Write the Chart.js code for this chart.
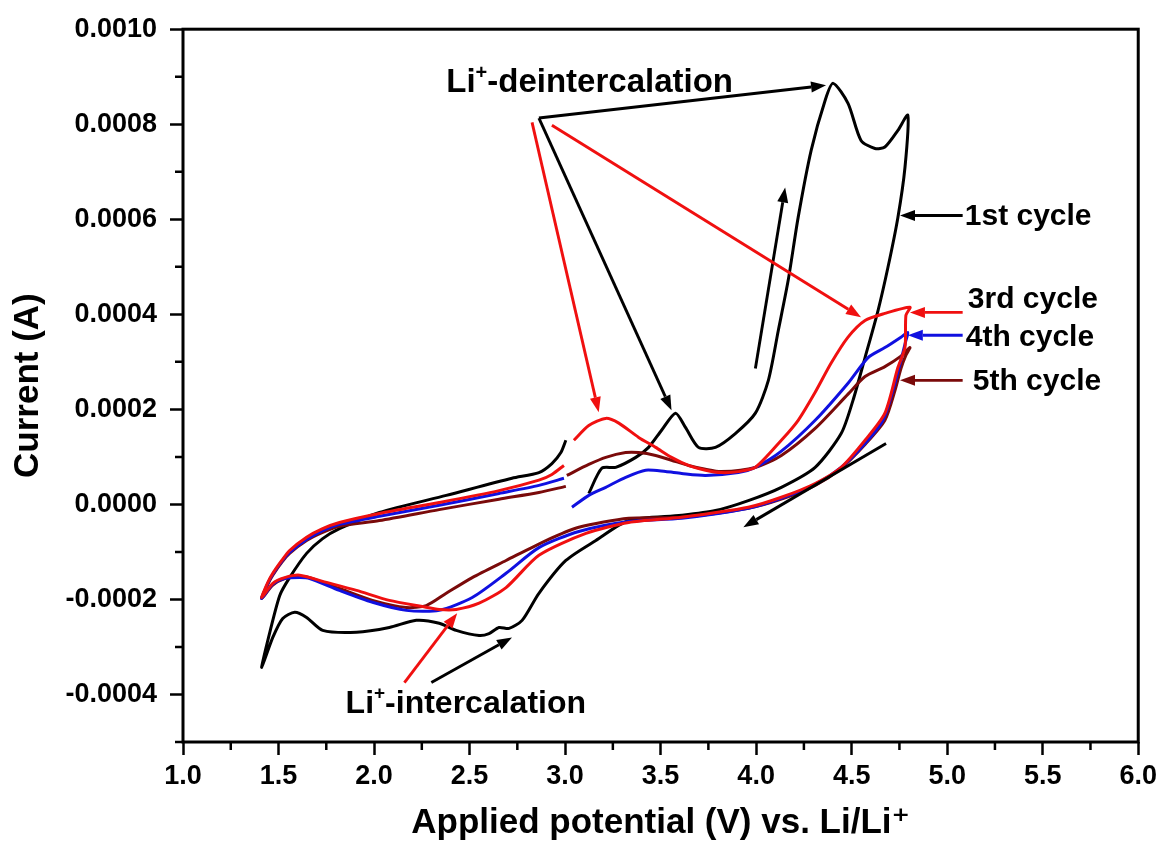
<!DOCTYPE html>
<html>
<head>
<meta charset="utf-8">
<script src="https://cdn.jsdelivr.net/npm/chart.js@4.4.1/dist/chart.umd.min.js"></script>
<style>
  html, body { margin: 0; padding: 0; background: #fff; }
  canvas { display: block; }
</style>
</head>
<body>
<canvas id="cv" width="1162" height="847"></canvas>
<script>
// potential (V) , current (A)
const cycle1 = [
  [3.124, 0.000023], [3.192, 0.000076], [3.265, 0.000078], [3.370, 0.000099], [3.437, 0.000120],
  [3.505, 0.000156], [3.578, 0.000192], [3.630, 0.000162], [3.698, 0.000120], [3.787, 0.000120],
  [3.891, 0.000149], [3.996, 0.000192], [4.064, 0.000261], [4.116, 0.000366], [4.168, 0.000472],
  [4.220, 0.000604], [4.288, 0.000745], [4.361, 0.000850], [4.403, 0.000886], [4.481, 0.000844],
  [4.549, 0.000766], [4.622, 0.000749], [4.674, 0.000752], [4.742, 0.000787], [4.794, 0.000819],
  [4.779, 0.000709], [4.742, 0.000604], [4.690, 0.000499], [4.638, 0.000408], [4.570, 0.000309],
  [4.507, 0.000219], [4.445, 0.000149], [4.309, 0.000078], [4.132, 0.000036], [3.959, 0.000008],
  [3.787, -0.000013], [3.610, -0.000023], [3.333, -0.000034], [3.161, -0.000076], [3.004, -0.000118],
  [2.863, -0.000187], [2.775, -0.000244], [2.707, -0.000261], [2.654, -0.000259], [2.602, -0.000272],
  [2.550, -0.000276], [2.430, -0.000265], [2.341, -0.000250], [2.221, -0.000244], [2.080, -0.000259],
  [1.908, -0.000269], [1.731, -0.000265], [1.647, -0.000238], [1.585, -0.000227], [1.522, -0.000240],
  [1.470, -0.000280], [1.412, -0.000343], [1.444, -0.000286], [1.506, -0.000192], [1.558, -0.000154],
  [1.647, -0.000103], [1.731, -0.000072], [1.819, -0.000051], [2.028, -0.000017], [2.378, 0.000019],
  [2.722, 0.000055], [2.863, 0.000067], [2.931, 0.000086], [2.978, 0.000109], [3.004, 0.000135]
]

const cycle3 = [
  [3.046, 0.000135], [3.124, 0.000166], [3.213, 0.000181], [3.281, 0.000171], [3.385, 0.000141],
  [3.474, 0.000120], [3.557, 0.000099], [3.646, 0.000082], [3.735, 0.000072], [3.818, 0.000067],
  [3.907, 0.000069], [3.996, 0.000078], [4.132, 0.000135], [4.220, 0.000177], [4.309, 0.000236],
  [4.392, 0.000297], [4.481, 0.000352], [4.570, 0.000387], [4.674, 0.000402], [4.805, 0.000415],
  [4.784, 0.000398], [4.779, 0.000330], [4.742, 0.000288], [4.674, 0.000192], [4.570, 0.000135],
  [4.445, 0.000078], [4.309, 0.000044], [4.132, 0.000015], [3.959, -0.000006], [3.610, -0.000027],
  [3.333, -0.000038], [3.109, -0.000061], [2.863, -0.000107], [2.691, -0.000175], [2.550, -0.000208],
  [2.430, -0.000221], [2.341, -0.000221], [2.253, -0.000215], [2.080, -0.000202], [1.908, -0.000181],
  [1.731, -0.000162], [1.611, -0.000149], [1.532, -0.000154], [1.470, -0.000166], [1.412, -0.000196],
  [1.444, -0.000164], [1.470, -0.000145], [1.517, -0.000118], [1.558, -0.000097], [1.647, -0.000069],
  [1.731, -0.000051], [1.819, -0.000038], [2.028, -0.000019], [2.341, 0.000004], [2.654, 0.000029],
  [2.863, 0.000051], [2.931, 0.000063], [2.994, 0.000082]
]

const cycle4 = [
  [3.036, -0.000006], [3.124, 0.000019], [3.213, 0.000036], [3.317, 0.000057], [3.422, 0.000072],
  [3.526, 0.000069], [3.610, 0.000065], [3.735, 0.000061], [3.907, 0.000067], [3.996, 0.000078],
  [4.132, 0.000112], [4.309, 0.000177], [4.481, 0.000255], [4.586, 0.000309], [4.674, 0.000330],
  [4.758, 0.000352], [4.794, 0.000362],
  [4.784, 0.000345], [4.758, 0.000303], [4.716, 0.000240], [4.664, 0.000177], [4.570, 0.000128],
  [4.445, 0.000078], [4.309, 0.000042], [4.132, 0.000013], [3.959, -0.000008], [3.610, -0.000029],
  [3.333, -0.000036], [3.072, -0.000057], [2.863, -0.000091], [2.691, -0.000145], [2.514, -0.000196],
  [2.341, -0.000223], [2.169, -0.000223], [1.992, -0.000206], [1.819, -0.000181], [1.663, -0.000156],
  [1.611, -0.000154], [1.532, -0.000156], [1.470, -0.000168], [1.412, -0.000198],
  [1.444, -0.000166], [1.470, -0.000147], [1.517, -0.000120], [1.558, -0.000101], [1.647, -0.000074],
  [1.731, -0.000055], [1.819, -0.000042], [2.028, -0.000025], [2.341, -0.000002], [2.654, 0.000023],
  [2.863, 0.000040], [2.994, 0.000055]
]

const cycle5 = [
  [3.009, 0.000061], [3.124, 0.000084], [3.213, 0.000099], [3.317, 0.000109], [3.385, 0.000109],
  [3.474, 0.000103], [3.557, 0.000093], [3.646, 0.000082], [3.735, 0.000074], [3.818, 0.000069],
  [3.996, 0.000078], [4.132, 0.000103], [4.309, 0.000160], [4.481, 0.000232], [4.570, 0.000269],
  [4.674, 0.000290], [4.758, 0.000312], [4.805, 0.000330],
  [4.784, 0.000314], [4.758, 0.000286], [4.727, 0.000240], [4.674, 0.000177], [4.570, 0.000126],
  [4.445, 0.000076], [4.309, 0.000040], [4.132, 0.000011], [3.959, -0.000008], [3.610, -0.000027],
  [3.333, -0.000029], [3.072, -0.000048], [2.900, -0.000076], [2.691, -0.000118], [2.514, -0.000154],
  [2.378, -0.000187], [2.273, -0.000213], [2.169, -0.000217], [1.992, -0.000202], [1.819, -0.000177],
  [1.663, -0.000154], [1.611, -0.000152], [1.532, -0.000156], [1.470, -0.000170], [1.412, -0.000198],
  [1.444, -0.000168], [1.470, -0.000149], [1.517, -0.000122], [1.558, -0.000103], [1.647, -0.000076],
  [1.731, -0.000059], [1.819, -0.000046], [2.028, -0.000034], [2.341, -0.000011], [2.654, 0.000011],
  [2.863, 0.000025], [3.004, 0.000038]
]

const xTicks = [1.0, 1.5, 2.0, 2.5, 3.0, 3.5, 4.0, 4.5, 5.0, 5.5, 6.0]
const xMinorTicks = [1.25, 1.75, 2.25, 2.75, 3.25, 3.75, 4.25, 4.75, 5.25, 5.75]
const yTicks = [-0.0004, -0.0002, 0.0000, 0.0002, 0.0004, 0.0006, 0.0008, 0.0010]
const yMinorTicks = [-0.0005, -0.0003, -0.0001, 0.0001, 0.0003, 0.0005, 0.0007, 0.0009]

// annotation arrows, [fromV, fromI, toV, toI]
const blackArrows = [
  [2.863, 0.000813, 4.366, 0.000882],
  [2.863, 0.000813, 3.557, 0.000198],
  [2.300, -0.000375, 2.722, -0.000280],
  [3.996, 0.000286, 4.152, 0.000667],
  [4.680, 0.000128, 3.933, -0.000048],
  [5.081, 0.000608, 4.753, 0.000608]
]
const redArrows = [
  [2.827, 0.000804, 3.176, 0.000194],
  [2.931, 0.000798, 4.549, 0.000394],
  [2.159, -0.000375, 2.435, -0.000229],
  [5.081, 0.000404, 4.805, 0.000404]
]
const blueArrows = [[5.081, 0.000356, 4.794, 0.000356]]
const darkRedArrows = [[5.081, 0.000261, 4.753, 0.000261]]

// text labels: [V, I (baseline), size, parts]
const labels = [
  [2.378, 0.000867, 33, [["Li", false], ["+", true], ["-deintercalation", false]]],
  [1.851, -0.000438, 32, [["Li", false], ["+", true], ["-intercalation", false]]],
  [5.092, 0.000589, 30, [["1st cycle", false]]],
  [5.108, 0.000413, 30, [["3rd cycle", false]]],
  [5.097, 0.000333, 30, [["4th cycle", false]]],
  [5.134, 0.000240, 30, [["5th cycle", false]]]
]

const FONT = '"Liberation Sans", Arial, "DejaVu Sans", sans-serif'
Chart.defaults.font.family = FONT
Chart.defaults.color = "#000"

const toPoints = (arr) => arr.map(([x, y]) => ({ x, y }))

function drawArrow(ctx, x1, y1, x2, y2, color) {
  const ang = Math.atan2(y2 - y1, x2 - x1)
  const L = 15, W = 5.5
  const bx = x2 - L * Math.cos(ang), by = y2 - L * Math.sin(ang)
  ctx.strokeStyle = color
  ctx.fillStyle = color
  ctx.lineWidth = 2.9
  ctx.beginPath()
  ctx.moveTo(x1, y1)
  ctx.lineTo(bx, by)
  ctx.stroke()
  ctx.beginPath()
  ctx.moveTo(x2, y2)
  ctx.lineTo(bx - W * Math.sin(ang), by + W * Math.cos(ang))
  ctx.lineTo(bx + W * Math.sin(ang), by - W * Math.cos(ang))
  ctx.closePath()
  ctx.fill()
}

const decorPlugin = {
  id: "decor",
  afterDraw(chart) {
    const { ctx, chartArea: a, scales: { x, y } } = chart
    ctx.save()
    // frame
    ctx.strokeStyle = "#000"
    ctx.lineWidth = 3
    ctx.strokeRect(a.left, a.top, a.right - a.left, a.bottom - a.top)
    // minor ticks
    ctx.lineWidth = 2.5
    ctx.beginPath()
    xMinorTicks.forEach((v) => {
      const px = x.getPixelForValue(v)
      ctx.moveTo(px, a.bottom)
      ctx.lineTo(px, a.bottom + 8)
    })
    yMinorTicks.forEach((v) => {
      const py = y.getPixelForValue(v)
      ctx.moveTo(a.left, py)
      ctx.lineTo(a.left - 8, py)
    })
    ctx.stroke()

    const groups = [[blackArrows, "#000"], [redArrows, "#f01010"], [blueArrows, "#1010e0"], [darkRedArrows, "#7a0a0a"]]
    groups.forEach(([list, color]) => {
      list.forEach(([v1, i1, v2, i2]) => {
        drawArrow(ctx, x.getPixelForValue(v1), y.getPixelForValue(i1), x.getPixelForValue(v2), y.getPixelForValue(i2), color)
      })
    })

    ctx.fillStyle = "#000"
    ctx.textBaseline = "alphabetic"
    ctx.textAlign = "left"
    labels.forEach(([v, i, size, parts]) => {
      let cx = x.getPixelForValue(v)
      const cy = y.getPixelForValue(i)
      parts.forEach(([t, sup]) => {
        ctx.font = `bold ${sup ? Math.round(size * 0.6) : size}px ${FONT}`
        ctx.fillText(t, cx, sup ? cy - size * 0.42 : cy)
        cx += ctx.measureText(t).width
      })
    })
    ctx.restore()
  }
}

const lineStyle = { showLine: true, pointRadius: 0, borderWidth: 3, tension: 0.25, fill: false }

new Chart(document.getElementById("cv"), {
  type: "scatter",
  data: {
    datasets: [
      { label: "3rd cycle", data: toPoints(cycle3), borderColor: "#f01010", ...lineStyle },
      { label: "4th cycle", data: toPoints(cycle4), borderColor: "#1010e0", ...lineStyle },
      { label: "5th cycle", data: toPoints(cycle5), borderColor: "#7a0a0a", ...lineStyle },
      { label: "1st cycle", data: toPoints(cycle1), borderColor: "#000", ...lineStyle },
    ],
  },
  options: {
    responsive: false,
    animation: false,
    events: [],
    layout: { padding: { top: 29, right: 21, left: 0, bottom: 0 } },
    plugins: { legend: { display: false }, tooltip: { enabled: false } },
    scales: {
      x: {
        type: "linear",
        min: 1,
        max: 6,
        afterBuildTicks: (s) => { s.ticks = xTicks.map((v) => ({ value: v })) },
        afterFit: (s) => { s.height = 105 },
        border: { display: false },
        grid: { drawOnChartArea: false, tickLength: 13, tickWidth: 2.5, tickColor: "#000" },
        ticks: { callback: (v) => Number(v).toFixed(1), font: { size: 27, weight: "bold" }, color: "#000", padding: 5, maxRotation: 0, autoSkip: false },
        title: { display: true, text: "Applied potential (V) vs. Li/Li\u207A", font: { size: 35, weight: "bold" }, color: "#000", padding: { top: 0, bottom: 3 } },
      },
      y: {
        type: "linear",
        min: -0.0005,
        max: 0.0010,
        afterBuildTicks: (s) => { s.ticks = yTicks.map((v) => ({ value: v })) },
        afterFit: (s) => { s.width = 183 },
        border: { display: false },
        grid: { drawOnChartArea: false, tickLength: 13, tickWidth: 2.5, tickColor: "#000" },
        ticks: { callback: (v) => Number(v).toFixed(4), font: { size: 27, weight: "bold" }, color: "#000", padding: 13, autoSkip: false },
        title: { display: true, text: "Current (A)", font: { size: 35, weight: "bold" }, color: "#000", padding: { top: 7, bottom: 6 } },
      },
    },
  },
  plugins: [decorPlugin],
})
</script>
</body>
</html>
